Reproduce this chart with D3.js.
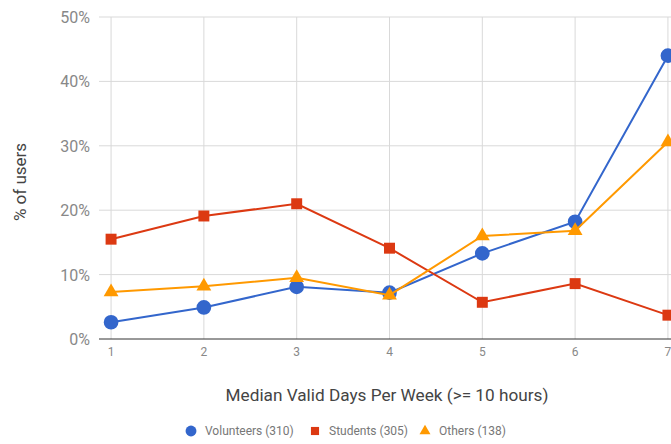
<!DOCTYPE html>
<html>
<head>
<meta charset="utf-8">
<script src="https://cdn.jsdelivr.net/npm/d3@7"></script>
<style>
  body { margin: 0; background: #fff; }
  svg { display: block; font-family: Roboto, "Noto Sans", sans-serif; }
</style>
</head>
<body>
<div id="chart"></div>
<script>
const days = [1, 2, 3, 4, 5, 6, 7]
const volunteers = [2.6, 4.9, 8.1, 7.2, 13.3, 18.2, 44.0]
const students = [15.5, 19.1, 21.0, 14.1, 5.7, 8.6, 3.7]
const others = [7.3, 8.2, 9.5, 6.8, 16.0, 16.8, 30.6]
const yTicks = [0, 10, 20, 30, 40, 50]
const seriesNames = ["Volunteers (310)", "Students (305)", "Others (138)"]

const width = 671, height = 444
const plotLeft = 99, plotRight = 680, plotTop = 17, plotBottom = 339

const series = [
  { name: seriesNames[0], values: volunteers, color: "#3366cc", shape: d3.symbolCircle, size: 170 },
  { name: seriesNames[1], values: students, color: "#dc3912", shape: d3.symbolSquare, size: 120 },
  { name: seriesNames[2], values: others, color: "#ff9900", shape: d3.symbolTriangle, size: 95 }
]

const svg = d3.select("#chart").append("svg")
  .attr("width", width)
  .attr("height", height)

const x = d3.scaleLinear().domain([0.87, 7.13]).range([plotLeft, plotRight])
const y = d3.scaleLinear().domain([0, 50]).range([plotBottom, plotTop])

// grid
svg.append("g")
  .selectAll("line")
  .data(yTicks.slice(1))
  .join("line")
  .attr("x1", plotLeft).attr("x2", width)
  .attr("y1", d => y(d)).attr("y2", d => y(d))
  .attr("stroke", "#d9d9d9")
svg.append("g")
  .selectAll("line")
  .data(days)
  .join("line")
  .attr("x1", d => x(d)).attr("x2", d => x(d))
  .attr("y1", plotTop).attr("y2", plotBottom)
  .attr("stroke", "#d9d9d9")

// baseline
svg.append("line")
  .attr("x1", plotLeft).attr("x2", width)
  .attr("y1", y(0)).attr("y2", y(0))
  .attr("stroke", "#333").attr("stroke-width", 1)

// y tick labels
svg.append("g")
  .selectAll("text")
  .data(yTicks)
  .join("text")
  .attr("x", 90)
  .attr("y", d => y(d) + 6)
  .attr("text-anchor", "end")
  .attr("fill", "#888")
  .style("font-size", "16px")
  .text(d => d + "%")

// x tick labels
svg.append("g")
  .selectAll("text")
  .data(days)
  .join("text")
  .attr("x", d => x(d))
  .attr("y", 356)
  .attr("text-anchor", "middle")
  .attr("fill", "#888")
  .style("font-size", "12px")
  .text(d => d)

// axis titles
svg.append("text")
  .attr("transform", "translate(26,182) rotate(-90)")
  .attr("text-anchor", "middle")
  .attr("fill", "#444")
  .style("font-size", "17px")
  .text("% of users")

svg.append("text")
  .attr("x", 387)
  .attr("y", 401)
  .attr("text-anchor", "middle")
  .attr("fill", "#444")
  .style("font-size", "17.2px")
  .text("Median Valid Days Per Week (>= 10 hours)")

// lines + markers
const line = d3.line().x((d, i) => x(days[i])).y(d => y(d))
series.forEach(s => {
  svg.append("path")
    .attr("d", line(s.values))
    .attr("fill", "none")
    .attr("stroke", s.color)
    .attr("stroke-width", 2)
  svg.append("g")
    .selectAll("path")
    .data(s.values)
    .join("path")
    .attr("transform", (d, i) => `translate(${x(days[i])},${y(d)})`)
    .attr("d", d3.symbol().type(s.shape).size(s.size))
    .attr("fill", s.color)
})

// legend
const legendX = [191, 315, 425]
const legend = svg.append("g")
  .selectAll("g")
  .data(series)
  .join("g")
  .attr("transform", (d, i) => `translate(${legendX[i]},431)`)
legend.append("path")
  .attr("d", d => d3.symbol().type(d.shape).size(d.size * 0.55)())
  .attr("fill", d => d.color)
legend.append("text")
  .attr("x", 14)
  .attr("y", 4)
  .attr("fill", "#777")
  .style("font-size", "12px")
  .text(d => d.name)
</script>
</body>
</html>
